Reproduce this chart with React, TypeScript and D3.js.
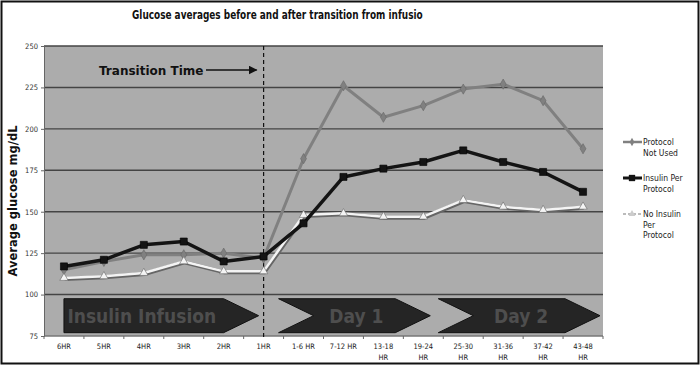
import * as d3 from 'd3';
import { useEffect, useRef } from 'react';

const categories = ['6HR', '5HR', '4HR', '3HR', '2HR', '1HR', '1-6 HR', '7-12 HR', '13-18 HR', '19-24 HR', '25-30 HR', '31-36 HR', '37-42 HR', '43-48 HR'];
const protocolNotUsed = [115, 120, 124, 124, 125, 122, 182, 226, 207, 214, 224, 227, 217, 188];
const insulinPerProtocol = [117, 121, 130, 132, 120, 123, 143, 171, 176, 180, 187, 180, 174, 162];
const noInsulinPerProtocol = [110, 111, 113, 120, 114, 114, 148, 149, 147, 147, 157, 153, 151, 153];
const yTicks = [75, 100, 125, 150, 175, 200, 225, 250];
const phases = [
  { label: 'Insulin Infusion', from: '6HR', to: '1HR', notch: false },
  { label: 'Day 1', from: '1-6 HR', to: '19-24 HR', notch: true },
  { label: 'Day 2', from: '25-30 HR', to: '43-48 HR', notch: true },
];
const legendLabels = [['Protocol', 'Not Used'], ['Insulin Per', 'Protocol'], ['No Insulin', 'Per', 'Protocol']];

export default function App() {
  const ref = useRef<SVGSVGElement>(null);

  useEffect(() => {
    const svg = d3.select(ref.current);
    svg.selectAll('*').remove();

    const W = 700, H = 365;
    const L = 44, R = 603, T = 46, B = 336;

    svg.append('rect').attr('x', 1.5).attr('y', 1.5).attr('width', W - 3).attr('height', H - 3)
      .attr('fill', '#fff').attr('stroke', '#111').attr('stroke-width', 2);

    const x = d3.scaleBand().domain(categories).range([L, R]);
    const y = d3.scaleLinear().domain([75, 250]).range([B, T]);
    const bw = x.bandwidth();
    const cx = (c: string) => (x(c) || 0) + bw / 2;

    // title (cut off at the right in the original)
    svg.append('clipPath').attr('id', 'tclip').append('rect').attr('x', 0).attr('y', 0).attr('width', 423).attr('height', 30);
    svg.append('text').attr('x', 132).attr('y', 19).attr('clip-path', 'url(#tclip)')
      .attr('font-family', 'DejaVu Sans Condensed, DejaVu Sans, sans-serif').attr('font-weight', 'bold')
      .attr('font-size', 12.5).attr('fill', '#111').attr('textLength', 297).attr('lengthAdjust', 'spacingAndGlyphs')
      .text('Glucose averages before and after transition from infusion');

    // plot area
    svg.append('rect').attr('x', L).attr('y', T).attr('width', R - L).attr('height', B - T).attr('fill', '#acacac');

    svg.append('g').selectAll('line').data(yTicks).enter().append('line')
      .attr('x1', L).attr('x2', R).attr('y1', (d) => y(d)).attr('y2', (d) => y(d))
      .attr('stroke', (d) => (d === 75 ? '#777' : '#444')).attr('stroke-width', 1.4);

    // y axis
    const ya = svg.append('g').attr('transform', `translate(${L},0)`)
      .call(d3.axisLeft(y).tickValues(yTicks).tickSize(3).tickFormat(d3.format('d')));
    ya.select('.domain').attr('stroke', '#666');
    ya.selectAll('text').attr('font-family', 'DejaVu Sans Condensed, DejaVu Sans, sans-serif').attr('font-size', 7.5).attr('fill', '#333');
    ya.selectAll('line').attr('stroke', '#666');

    svg.append('text').attr('transform', `translate(17,${(T + B) / 2 + 10}) rotate(-90)`)
      .attr('text-anchor', 'middle').attr('font-family', 'DejaVu Sans, sans-serif').attr('font-weight', 'bold')
      .attr('font-size', 11.5).attr('fill', '#111').text('Average glucose mg/dL');

    // x ticks and labels
    svg.append('g').selectAll('line').data(d3.range(categories.length + 1)).enter().append('line')
      .attr('x1', (i) => L + i * bw).attr('x2', (i) => L + i * bw)
      .attr('y1', B).attr('y2', B + 3).attr('stroke', '#666');
    const xl = svg.append('g').selectAll('text').data(categories).enter().append('text')
      .attr('x', (d) => cx(d)).attr('y', 349).attr('text-anchor', 'middle')
      .attr('font-family', 'DejaVu Sans Condensed, DejaVu Sans, sans-serif').attr('font-size', 7.5).attr('fill', '#222');
    xl.each(function (d, i) {
      const t = d3.select(this);
      if (i >= 8) {
        const [a, b] = d.split(' ');
        t.append('tspan').attr('x', cx(d)).text(a);
        t.append('tspan').attr('x', cx(d)).attr('dy', 11).text(b);
      } else {
        t.text(d);
      }
    });

    // phase banners
    const bTop = y(97.5), bBot = y(77);
    const tip = 35;
    phases.forEach((p, k) => {
      const x0 = p.notch ? (x(p.from) || 0) - 5 : cx(p.from);
      const x1 = k === phases.length - 1 ? R - 3 : p.notch ? (x(p.to) || 0) + bw - 13 : cx(p.to) - 5;
      const mid = (bTop + bBot) / 2;
      const pts = p.notch
        ? [[x0, bTop], [x1 - tip, bTop], [x1, mid], [x1 - tip, bBot], [x0, bBot], [x0 + tip, mid]]
        : [[x0, bTop], [x1 - tip, bTop], [x1, mid], [x1 - tip, bBot], [x0, bBot]];
      svg.append('polygon').attr('points', pts.map((q) => q.join(',')).join(' '))
        .attr('fill', '#252525').attr('stroke', '#111');
      svg.append('text').attr('x', p.notch ? (x0 + x1) / 2 + 2 : (x0 + x1 - tip) / 2 - 2).attr('y', mid + 7)
        .attr('text-anchor', 'middle').attr('font-family', 'DejaVu Sans Condensed, DejaVu Sans, sans-serif').attr('font-weight', 'bold')
        .attr('font-size', 19).attr('fill', '#4e4e4e').text(p.label);
    });

    // transition line
    svg.append('line').attr('x1', cx('1HR')).attr('x2', cx('1HR')).attr('y1', T).attr('y2', B + 3)
      .attr('stroke', '#111').attr('stroke-width', 1.2).attr('stroke-dasharray', '4,3');

    svg.append('defs').append('marker').attr('id', 'ah').attr('viewBox', '0 0 10 10').attr('refX', 9).attr('refY', 5)
      .attr('markerWidth', 6).attr('markerHeight', 6).attr('orient', 'auto')
      .append('path').attr('d', 'M0,0 L10,5 L0,10 z').attr('fill', '#111');
    svg.append('text').attr('x', 99).attr('y', 75).attr('font-family', 'DejaVu Sans, sans-serif').attr('font-weight', 'bold')
      .attr('font-size', 12).attr('fill', '#111').text('Transition Time');
    svg.append('line').attr('x1', 206).attr('x2', cx('1HR') - 7).attr('y1', 70).attr('y2', 70)
      .attr('stroke', '#111').attr('stroke-width', 1.5).attr('marker-end', 'url(#ah)');

    // series
    const series = [
      { values: protocolNotUsed, color: '#808080', width: 3, marker: 'diamond' },
      { values: noInsulinPerProtocol, color: '#f4f4f4', width: 2.5, marker: 'triangle' },
      { values: insulinPerProtocol, color: '#141414', width: 3.5, marker: 'square' },
    ];
    const symOf = (m: string) => (m === 'square' ? d3.symbolSquare : m === 'triangle' ? d3.symbolTriangle : d3.symbolDiamond);
    const line = d3.line<number>().x((_, i) => cx(categories[i])).y((d) => y(d));
    series.forEach((s) => {
      if (s.marker === 'triangle') {
        svg.append('path').attr('d', line(s.values) || '').attr('fill', 'none')
          .attr('stroke', '#666').attr('stroke-width', s.width + 1.5).attr('transform', 'translate(0.7,1)');
      }
      svg.append('path').attr('d', line(s.values) || '').attr('fill', 'none')
        .attr('stroke', s.color).attr('stroke-width', s.width).attr('stroke-linejoin', 'round');
      svg.append('g').selectAll('path').data(s.values).enter().append('path')
        .attr('d', d3.symbol().type(symOf(s.marker)).size(s.marker === 'square' ? 50 : 30)())
        .attr('transform', (d, i) => `translate(${cx(categories[i])},${y(d)})`)
        .attr('fill', s.color).attr('stroke', s.marker === 'square' ? '#000' : '#666').attr('stroke-width', 0.6);
    });

    // legend
    const legendSeries = [series[0], series[2], series[1]];
    const lg = svg.append('g').attr('font-family', 'DejaVu Sans Condensed, DejaVu Sans, sans-serif').attr('font-size', 8.5).attr('fill', '#222');
    legendSeries.forEach((s, k) => {
      const ly = 142 + k * 36;
      const white = s === series[1];
      lg.append('line').attr('x1', 623).attr('x2', 642).attr('y1', ly).attr('y2', ly)
        .attr('stroke', white ? '#bbb' : s.color).attr('stroke-width', s.width - 0.5)
        .attr('stroke-dasharray', white ? '3,2' : null);
      lg.append('path').attr('d', d3.symbol().type(symOf(s.marker)).size(s.marker === 'square' ? 40 : 20)())
        .attr('transform', `translate(632,${ly})`).attr('fill', white ? '#ccc' : s.color);
      legendLabels[k].forEach((t, j) => {
        lg.append('text').attr('x', 643).attr('y', ly + 3 + j * 10.5).text(t);
      });
    });
  }, []);

  return (
    <svg ref={ref} width={700} height={365} style={{ position: 'absolute', left: 0, top: 0 }} />
  );
}
